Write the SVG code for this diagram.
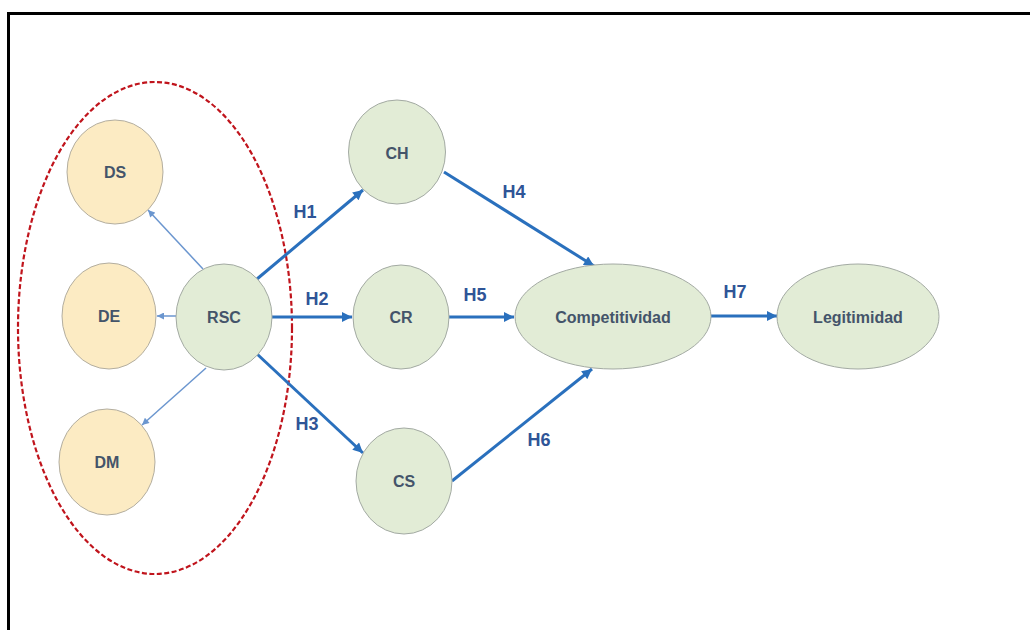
<svg xmlns="http://www.w3.org/2000/svg" width="1030" height="630" viewBox="0 0 1030 630">
<defs>
<style>
.g{fill:#e2ecd6;stroke:#a3aaa3;stroke-width:1}
.o{fill:#fcebc3;stroke:#b3aea0;stroke-width:1}
.t{font-family:"Liberation Sans",Arial,sans-serif;font-weight:bold;font-size:16px;fill:#44546a;text-anchor:middle;dominant-baseline:central}
.h{font-family:"Liberation Sans",Arial,sans-serif;font-weight:bold;font-size:18px;fill:#2f5597;text-anchor:middle;dominant-baseline:central}
.thick{stroke:#2a70bd;stroke-width:3;fill:none;marker-end:url(#ah)}
.thin{stroke:#6b96cf;stroke-width:1.5;fill:none;marker-end:url(#as)}
</style>
<marker id="ah" viewBox="0 0 10 10" refX="10" refY="5" markerWidth="11" markerHeight="10" markerUnits="userSpaceOnUse" orient="auto">
<path d="M0,0 L10,5 L0,10 z" fill="#2a70bd"/>
</marker>
<marker id="as" viewBox="0 0 10 10" refX="10" refY="5" markerWidth="8" markerHeight="7" markerUnits="userSpaceOnUse" orient="auto">
<path d="M0,0 L10,5 L0,10 z" fill="#6b96cf"/>
</marker>
</defs>
<rect width="1030" height="630" fill="#ffffff"/>
<path d="M8.5,630 V13.5 H1030" fill="none" stroke="#000" stroke-width="3"/>

<g id="group-ellipse">
<ellipse cx="155" cy="328" rx="137" ry="246" fill="none" stroke="#c0141c" stroke-width="2.2" stroke-dasharray="5,2.5"/>
</g>

<g id="connectors">
<line class="thin" x1="203" y1="269" x2="148" y2="210"/>
<line class="thin" x1="176" y1="316" x2="157" y2="316"/>
<line class="thin" x1="206" y1="368" x2="142" y2="425"/>
<line class="thick" x1="257" y1="279" x2="363" y2="190"/>
<line class="thick" x1="272" y1="317" x2="352" y2="317"/>
<line class="thick" x1="257" y1="354" x2="363" y2="453"/>
<line class="thick" x1="444" y1="172" x2="594" y2="266"/>
<line class="thick" x1="449" y1="317" x2="514" y2="317"/>
<line class="thick" x1="452" y1="481" x2="592" y2="369"/>
<line class="thick" x1="711" y1="316" x2="777" y2="316"/>
<text class="h" x="305" y="212">H1</text>
<text class="h" x="317" y="299">H2</text>
<text class="h" x="307" y="424">H3</text>
<text class="h" x="514" y="192">H4</text>
<text class="h" x="475" y="295">H5</text>
<text class="h" x="539" y="440">H6</text>
<text class="h" x="735" y="292">H7</text>
</g>

<g id="node-DS"><ellipse class="o" cx="115" cy="172" rx="48" ry="52"/><text class="t" x="115" y="172">DS</text></g>
<g id="node-DE"><ellipse class="o" cx="109" cy="316" rx="47" ry="53"/><text class="t" x="109" y="316">DE</text></g>
<g id="node-DM"><ellipse class="o" cx="107" cy="462" rx="48" ry="53"/><text class="t" x="107" y="462">DM</text></g>
<g id="node-RSC"><ellipse class="g" cx="224" cy="317" rx="48" ry="53"/><text class="t" x="224" y="317">RSC</text></g>
<g id="node-CH"><ellipse class="g" cx="397" cy="152" rx="48.5" ry="52"/><text class="t" x="397" y="153">CH</text></g>
<g id="node-CR"><ellipse class="g" cx="401" cy="317" rx="48" ry="52"/><text class="t" x="401" y="317">CR</text></g>
<g id="node-CS"><ellipse class="g" cx="404" cy="481" rx="48" ry="53"/><text class="t" x="404" y="481">CS</text></g>
<g id="node-Competitividad"><ellipse class="g" cx="613" cy="316.5" rx="98" ry="52.5"/><text class="t" x="613" y="317">Competitividad</text></g>
<g id="node-Legitimidad"><ellipse class="g" cx="858" cy="316.5" rx="81" ry="52.5"/><text class="t" x="858" y="317">Legitimidad</text></g>
</svg>
